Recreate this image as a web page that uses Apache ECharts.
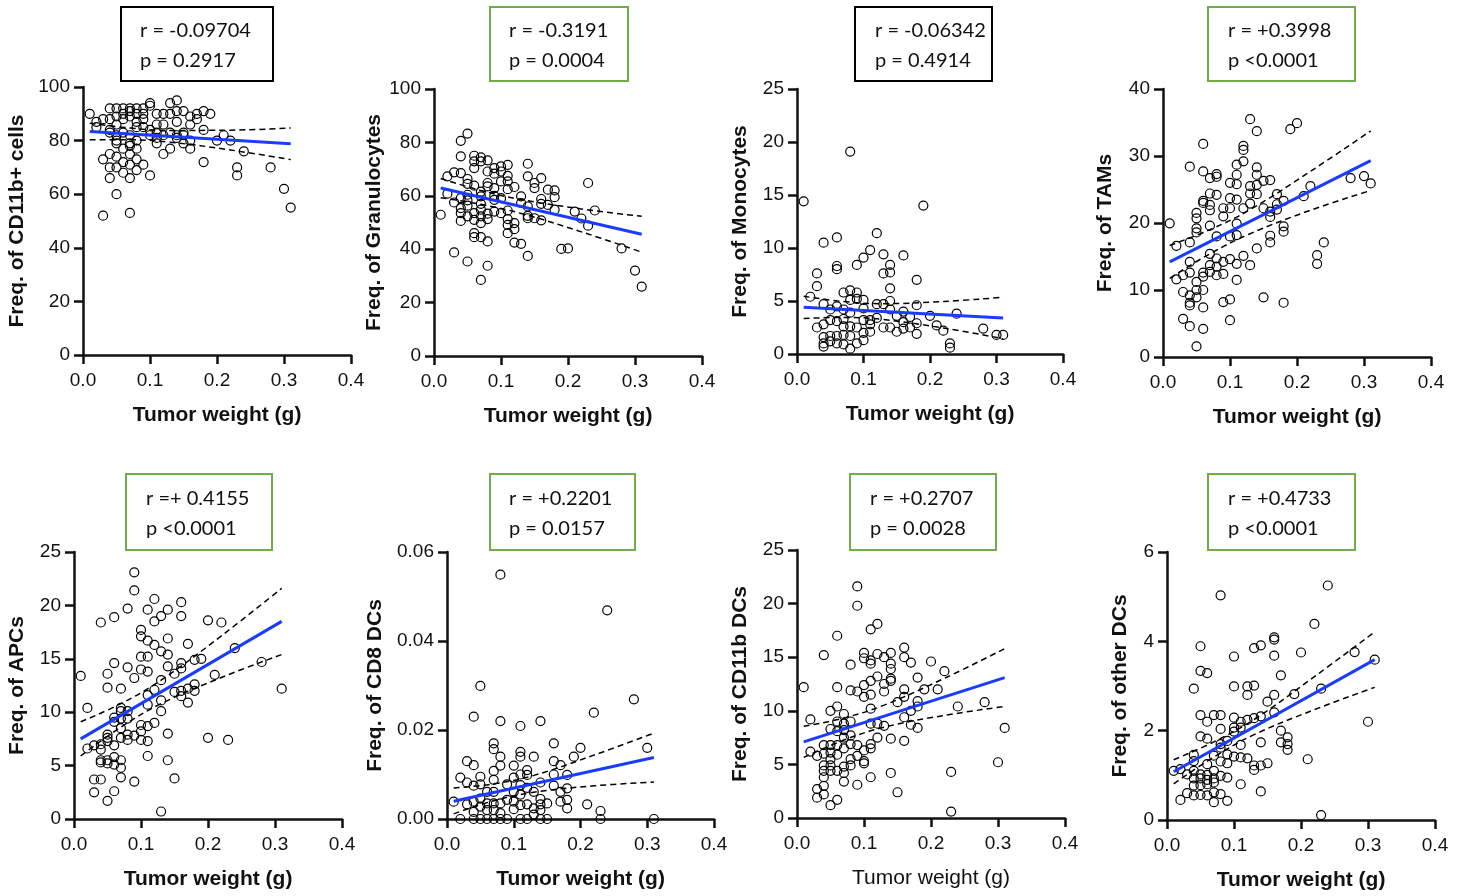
<!DOCTYPE html>
<html>
<head>
<meta charset="utf-8">
<script src="https://cdn.jsdelivr.net/npm/echarts@6/dist/echarts.min.js"></script>
<style>
  html, body { margin: 0; padding: 0; background: #fff; }
  #chart { width: 1466px; height: 896px; }
</style>
</head>
<body>
<div id="chart"></div>
<script>
// ---- Tumor weight (g) vs. immune cell frequency, one array per population ----
const cd11bCells = [
  [0.01,90],[0.02,87],[0.02,85],[0.03,88],[0.03,73],[0.03,52],
  [0.04,92],[0.04,88],[0.04,84],[0.04,83],[0.04,75],[0.04,70],[0.04,66],
  [0.05,92],[0.05,89],[0.05,86],[0.05,82],[0.05,80],[0.05,79],[0.05,74],[0.05,70],[0.05,60],
  [0.06,92],[0.06,90],[0.06,88],[0.06,83],[0.06,77],[0.06,72],[0.06,68],
  [0.07,92],[0.07,91],[0.07,89],[0.07,82],[0.07,79],[0.07,78],[0.07,75],[0.07,71],[0.07,66],[0.07,53],
  [0.08,92],[0.08,90],[0.08,87],[0.08,85],[0.08,80],[0.08,77],[0.08,73],[0.08,69],
  [0.09,92],[0.09,90],[0.09,88],[0.09,85],[0.09,71],
  [0.10,94],[0.10,93],[0.10,84],[0.10,82],[0.10,67],
  [0.11,90],[0.11,86],[0.11,83],[0.11,81],[0.11,79],
  [0.12,90],[0.12,86],[0.12,82],[0.12,75],
  [0.13,94],[0.13,90],[0.13,83],[0.13,77],
  [0.14,95],[0.14,91],[0.14,87],[0.14,82],[0.14,81],
  [0.15,91],[0.15,83],[0.15,82],[0.15,79],
  [0.16,89],[0.16,86],[0.16,80],[0.16,77],
  [0.17,90],[0.17,88],
  [0.18,91],[0.18,84],[0.18,72],
  [0.19,90],[0.20,80],[0.21,82],[0.22,80],[0.23,70],[0.23,67],[0.24,76],[0.28,70],[0.30,62],[0.31,55]
];
const granulocytes = [
  [0.01,52.9],[0.02,67.3],[0.02,60.8],[0.03,68.8],[0.03,57.5],[0.03,38.8],
  [0.04,80.6],[0.04,74.8],[0.04,68.5],[0.04,59.1],[0.04,55.4],[0.04,53.5],[0.04,50.6],
  [0.05,83.3],[0.05,66.3],[0.05,64.5],[0.05,60.4],[0.05,58.3],[0.05,56.3],[0.05,52.3],[0.05,35.4],
  [0.06,75],[0.06,72.9],[0.06,70.4],[0.06,63.8],[0.06,53.5],[0.06,51],[0.06,46],[0.06,44.5],
  [0.07,74.4],[0.07,72.9],[0.07,61.6],[0.07,59.8],[0.07,57],[0.07,54.8],[0.07,52.3],[0.07,49.8],[0.07,44.5],[0.07,28.5],
  [0.08,73.3],[0.08,69.1],[0.08,64.8],[0.08,63.5],[0.08,53.3],[0.08,51.3],[0.08,42.9],[0.08,33.8],
  [0.09,70.4],[0.09,68.3],[0.09,62.9],[0.09,60],[0.09,58.5],[0.09,54.1],
  [0.10,71],[0.10,69.1],[0.10,65.4],[0.10,59.1],[0.10,53.5],
  [0.11,71.6],[0.11,67.5],[0.11,65.4],[0.11,62.5],[0.11,54.5],[0.11,51.3],[0.11,49.1],[0.11,46],
  [0.12,63.3],[0.12,49.8],[0.12,47.5],[0.12,42.5],
  [0.13,59.8],[0.13,57.3],[0.13,42],
  [0.14,72],[0.14,67.3],[0.14,56],[0.14,52.5],[0.14,51.6],[0.14,37.5],
  [0.15,64.8],[0.15,62.9],[0.15,51.6],
  [0.16,66.6],[0.16,58.8],[0.16,57],[0.16,50.8],
  [0.17,62.3],[0.17,56.6],
  [0.18,62],[0.18,59.5],[0.18,54.8],
  [0.19,40.1],[0.20,40.3],[0.21,54.1],[0.22,51.5],[0.23,64.8],[0.23,48.8],[0.24,54.5],[0.28,40.3],[0.30,32],[0.31,26]
];
const monocytes = [
  [0.01,14.4],[0.02,5.4],[0.03,7.6],[0.03,6.4],[0.03,2.5],
  [0.04,10.5],[0.04,4.7],[0.04,2.8],[0.04,1.6],[0.04,1.0],[0.04,0.7],
  [0.05,4.2],[0.05,3.2],[0.05,1.7],[0.05,1.2],
  [0.06,11.0],[0.06,8.3],[0.06,8.0],[0.06,4.5],[0.06,3.1],[0.06,1.7],[0.06,1.0],
  [0.07,5.8],[0.07,4.2],[0.07,3.3],[0.07,2.6],[0.07,1.8],[0.07,0.9],
  [0.08,19.1],[0.08,6.0],[0.08,5.1],[0.08,3.9],[0.08,2.6],[0.08,1.7],[0.08,0.5],
  [0.09,8.4],[0.09,5.8],[0.09,5.2],[0.09,2.5],[0.09,1.0],
  [0.10,9.1],[0.10,5.1],[0.10,4.3],[0.10,3.2],[0.10,2.0],[0.10,1.3],
  [0.11,9.8],[0.11,3.2],[0.11,2.8],[0.11,2.1],
  [0.12,11.4],[0.12,4.7],[0.12,3.4],
  [0.13,9.4],[0.13,7.6],[0.13,4.7],[0.13,2.5],
  [0.14,8.4],[0.14,7.7],[0.14,6.2],[0.14,5.0],[0.14,4.2],[0.14,2.5],
  [0.15,3.6],[0.15,2.1],
  [0.16,9.3],[0.16,4.0],[0.16,3.0],[0.16,2.4],
  [0.17,3.5],[0.17,2.5],
  [0.18,7.0],[0.18,4.6],[0.18,2.9],[0.18,1.9],
  [0.19,14.0],[0.20,3.6],[0.21,2.7],[0.22,2.2],[0.23,1.0],[0.23,0.6],[0.24,3.8],[0.28,2.4],[0.30,1.8],[0.31,1.8]
];
const tams = [
  [0.01,19.95],[0.02,16.6],[0.02,11.6],[0.03,12.2],[0.03,9.7],[0.03,5.7],
  [0.04,28.4],[0.04,17.1],[0.04,14.2],[0.04,12.6],[0.04,9.2],[0.04,8.1],[0.04,7.7],[0.04,4.6],
  [0.05,21.5],[0.05,20.7],[0.05,19.2],[0.05,18.6],[0.05,11.2],[0.05,10.0],[0.05,8.9],[0.05,1.6],
  [0.06,31.8],[0.06,27.7],[0.06,23.3],[0.06,23.0],[0.06,12.6],[0.06,12.0],[0.06,10.0],[0.06,7.4],[0.06,4.2],
  [0.07,26.7],[0.07,24.4],[0.07,22.7],[0.07,21.9],[0.07,19.6],[0.07,15.4],[0.07,13.7],[0.07,12.7],
  [0.08,27.3],[0.08,26.9],[0.08,24.2],[0.08,18.0],[0.08,14.7],[0.08,13.5],[0.08,12.2],
  [0.09,22.2],[0.09,21.0],[0.09,14.2],[0.09,12.4],[0.09,8.2],
  [0.10,26.0],[0.10,23.7],[0.10,22.2],[0.10,18.0],[0.10,14.6],[0.10,8.6],[0.10,5.5],
  [0.11,28.7],[0.11,27.2],[0.11,25.8],[0.11,23.5],[0.11,19.9],[0.11,18.2],[0.11,13.9],[0.11,11.5],
  [0.12,31.5],[0.12,30.9],[0.12,29.2],[0.12,22.2],[0.12,15.1],
  [0.13,35.5],[0.13,25.5],[0.13,24.4],[0.13,22.9],[0.13,13.7],
  [0.14,33.7],[0.14,28.3],[0.14,27.2],[0.14,25.7],[0.14,24.3],[0.14,16.2],
  [0.15,26.3],[0.15,22.2],[0.15,8.9],
  [0.16,26.4],[0.16,21.7],[0.16,20.9],[0.16,18.1],[0.16,17.1],
  [0.17,24.3],[0.17,22.8],[0.17,22.0],
  [0.18,23.3],[0.18,19.5],[0.18,18.7],[0.18,8.1],
  [0.19,34.0],[0.20,34.9],[0.21,24.0],[0.22,25.5],[0.23,15.2],[0.23,13.9],[0.24,17.1],[0.28,26.7],[0.30,27.0],[0.31,25.9]
];
const apcs = [
  [0.01,13.4],[0.02,10.4],[0.02,6.6],[0.03,6.9],[0.03,3.7],[0.03,2.5],
  [0.04,18.4],[0.04,7.0],[0.04,6.5],[0.04,5.5],[0.04,5.3],[0.04,3.7],
  [0.05,13.6],[0.05,12.3],[0.05,7.9],[0.05,7.6],[0.05,7.3],[0.05,5.5],[0.05,5.2],[0.05,1.7],
  [0.06,18.9],[0.06,14.6],[0.06,9.5],[0.06,9.1],[0.06,6.9],[0.06,5.8],[0.06,5.1],[0.06,2.6],
  [0.07,12.2],[0.07,10.4],[0.07,10.1],[0.07,9.4],[0.07,8.5],[0.07,7.6],[0.07,5.5],[0.07,4.8],[0.07,3.9],
  [0.08,19.7],[0.08,14.2],[0.08,10.1],[0.08,9.4],[0.08,7.9],[0.08,7.4],
  [0.09,23.1],[0.09,21.4],[0.09,13.2],[0.09,7.8],[0.09,3.5],
  [0.10,17.7],[0.10,17.1],[0.10,15.2],[0.10,14.0],[0.10,8.8],[0.10,8.2],[0.10,7.4],
  [0.11,19.6],[0.11,16.7],[0.11,15.2],[0.11,13.8],[0.11,11.6],[0.11,10.7],[0.11,8.7],[0.11,7.3],[0.11,5.9],
  [0.12,20.6],[0.12,18.5],[0.12,16.3],[0.12,12.1],[0.12,9.0],
  [0.13,19.0],[0.13,15.7],[0.13,13.0],[0.13,11.1],[0.13,10.1],[0.13,0.7],
  [0.14,19.6],[0.14,16.9],[0.14,15.4],[0.14,14.3],[0.14,8.0],[0.14,5.5],
  [0.15,13.6],[0.15,11.9],[0.15,3.8],
  [0.16,20.3],[0.16,19.0],[0.16,14.6],[0.16,14.1],[0.16,12.0],[0.16,11.5],
  [0.17,16.4],[0.17,12.2],[0.17,10.9],
  [0.18,14.9],[0.18,12.6],[0.18,12.0],
  [0.19,15.0],[0.20,18.6],[0.20,7.6],[0.21,13.5],[0.22,18.4],[0.23,7.4],[0.24,16.0],[0.28,14.7],[0.31,12.2]
];
const cd8Dcs = [
  [0.01,0.0039],[0.02,0.0093],[0.02,0],[0.03,0.0130],[0.03,0.0082],[0.03,0.0033],
  [0.04,0.0230],[0.04,0.0121],[0.04,0.0075],[0.04,0.0039],[0.04,0.0016],[0.04,0],
  [0.05,0.0299],[0.05,0.0095],[0.05,0.0078],[0.05,0.0046],[0.05,0.0028],[0.05,0],
  [0.06,0.0061],[0.06,0.0035],[0.06,0.0020],[0.06,0],
  [0.07,0.0170],[0.07,0.0157],[0.07,0.0108],[0.07,0.0088],[0.07,0.0061],[0.07,0.0035],[0.07,0.0020],[0.07,0],
  [0.08,0.0549],[0.08,0.0220],[0.08,0.0140],[0.08,0.0120],[0.08,0.0035],[0.08,0.0013],[0.08,0],
  [0.09,0.0078],[0.09,0.0043],[0.09,0],
  [0.10,0.0120],[0.10,0.0093],[0.10,0.0061],[0.10,0.0039],[0.10,0.0022],
  [0.11,0.0209],[0.11,0.0151],[0.11,0.0140],[0.11,0.0100],[0.11,0.0076],[0.11,0.0055],[0.11,0.0031],[0.11,0],
  [0.12,0.0110],[0.12,0.0099],[0.12,0.0070],[0.12,0.0033],[0.12,0],
  [0.13,0.0140],[0.13,0.0061],[0.13,0.0024],[0.13,0.0010],
  [0.14,0.0220],[0.14,0.0082],[0.14,0.0045],[0.14,0.0033],[0.14,0.0020],[0.14,0],
  [0.15,0.0035],[0.15,0],
  [0.16,0.0170],[0.16,0.0130],[0.16,0.0100],[0.16,0.0075],
  [0.17,0.0121],[0.17,0.0061],[0.17,0.0039],
  [0.18,0.0099],[0.18,0.0069],[0.18,0.0043],[0.18,0.0024],
  [0.19,0.0140],[0.20,0.0160],[0.21,0.0033],[0.22,0.0239],[0.23,0.0018],[0.23,0],[0.24,0.0469],[0.28,0.0269],[0.30,0.0160],[0.31,0]
];
const cd11bDcs = [
  [0.01,12.2],[0.02,9.2],[0.02,6.2],[0.03,5.8],[0.03,2.7],[0.03,1.9],
  [0.04,15.2],[0.04,6.8],[0.04,6.0],[0.04,4.9],[0.04,4.4],[0.04,3.8],[0.04,3.0],[0.04,2.2],
  [0.05,10.0],[0.05,8.3],[0.05,6.8],[0.05,6.1],[0.05,5.5],[0.05,4.9],[0.05,4.4],[0.05,1.2],
  [0.06,17.0],[0.06,12.2],[0.06,10.4],[0.06,9.0],[0.06,8.1],[0.06,6.8],[0.06,5.9],[0.06,4.4],[0.06,1.7],
  [0.07,9.7],[0.07,8.8],[0.07,8.2],[0.07,7.5],[0.07,6.5],[0.07,4.8],[0.07,4.2],[0.07,3.4],
  [0.08,14.3],[0.08,11.9],[0.08,9.0],[0.08,7.7],[0.08,6.9],[0.08,5.5],[0.08,4.9],
  [0.09,21.6],[0.09,19.8],[0.09,11.8],[0.09,6.8],[0.09,5.8],[0.09,3.1],
  [0.10,15.4],[0.10,14.9],[0.10,12.4],[0.10,11.3],[0.10,6.3],[0.10,5.3],[0.10,5.1],
  [0.11,17.6],[0.11,14.7],[0.11,14.4],[0.11,12.8],[0.11,11.5],[0.11,10.2],[0.11,8.8],[0.11,6.9],[0.11,6.5],[0.11,3.8],
  [0.12,18.1],[0.12,15.3],[0.12,13.2],[0.12,8.8],[0.12,7.5],
  [0.13,15.0],[0.13,12.5],[0.13,11.8],[0.13,8.6],
  [0.14,15.4],[0.14,14.4],[0.14,13.9],[0.14,13.0],[0.14,12.8],[0.14,7.4],[0.14,4.2],
  [0.15,10.8],[0.15,2.4],
  [0.16,15.9],[0.16,15.0],[0.16,12.0],[0.16,11.3],[0.16,9.4],[0.16,7.2],
  [0.17,14.5],[0.17,10.0],[0.17,8.7],
  [0.18,13.1],[0.18,10.9],[0.18,10.4],[0.18,8.4],
  [0.19,12.0],[0.20,14.6],[0.21,12.0],[0.22,13.7],[0.23,4.3],[0.23,0.6],[0.24,10.4],[0.28,10.8],[0.30,5.2],[0.31,8.4]
];
const otherDcs = [
  [0.01,1.10],[0.02,1.14],[0.02,0.45],[0.03,1.02],[0.03,0.60],
  [0.04,2.94],[0.04,1.46],[0.04,1.32],[0.04,1.10],[0.04,0.93],[0.04,0.77],[0.04,0.55],
  [0.05,3.89],[0.05,3.34],[0.05,2.35],[0.05,1.87],[0.05,1.02],[0.05,0.93],[0.05,0.78],[0.05,0.56],
  [0.06,3.29],[0.06,2.20],[0.06,1.82],[0.06,1.25],[0.06,1.01],[0.06,0.90],[0.06,0.80],[0.06,0.55],
  [0.07,2.35],[0.07,1.44],[0.07,1.10],[0.07,0.93],[0.07,0.84],[0.07,0.62],[0.07,0.40],
  [0.08,5.03],[0.08,2.35],[0.08,2.04],[0.08,1.70],[0.08,1.62],[0.08,1.31],[0.08,0.99],[0.08,0.58],
  [0.09,1.77],[0.09,1.47],[0.09,1.27],[0.09,0.95],[0.09,0.43],
  [0.10,3.66],[0.10,2.99],[0.10,2.29],[0.10,2.07],[0.10,1.98],[0.10,1.42],
  [0.11,2.20],[0.11,2.07],[0.11,1.68],[0.11,1.40],[0.11,0.80],
  [0.12,2.99],[0.12,2.80],[0.12,2.24],[0.12,1.38],
  [0.13,3.85],[0.13,3.01],[0.13,2.28],[0.13,1.22],[0.13,1.12],
  [0.14,3.91],[0.14,2.32],[0.14,1.74],[0.14,1.22],[0.14,0.64],
  [0.15,2.65],[0.15,1.27],
  [0.16,4.09],[0.16,4.04],[0.16,3.68],[0.16,2.80],[0.16,2.41],
  [0.17,3.24],[0.17,2.00],[0.17,1.74],
  [0.18,1.85],[0.18,1.70],[0.18,1.57],
  [0.19,2.82],[0.20,3.75],[0.21,1.36],[0.22,4.39],[0.23,2.94],[0.23,0.11],[0.24,5.25],[0.28,3.76],[0.30,2.20],[0.31,3.59]
];

// ---- Linear fits (endpoints) and 95% confidence bands ----
const fitCd11bCells = [[0.01,83.4],[0.31,78.8]];
const upperCd11bCells = [[0.01,86.5],[0.07,84.7],[0.13,83.8],[0.22,83.9],[0.31,84.7]];
const lowerCd11bCells = [[0.01,80.3],[0.07,80.3],[0.13,79.4],[0.22,76.5],[0.31,72.9]];

const fitGranulocytes = [[0.01,62.9],[0.31,45.6]];
const upperGranulocytes = [[0.01,66.5],[0.07,62.0],[0.13,58.6],[0.22,55.1],[0.31,52.3]];
const lowerGranulocytes = [[0.01,59.3],[0.07,56.8],[0.13,53.4],[0.22,46.5],[0.31,38.9]];

const fitMonocytes = [[0.01,4.4],[0.31,3.4]];
const upperMonocytes = [[0.01,5.45],[0.07,4.95],[0.13,4.75],[0.22,4.95],[0.31,5.35]];
const lowerMonocytes = [[0.01,3.35],[0.07,3.45],[0.13,3.25],[0.22,2.45],[0.31,1.45]];

const fitTams = [[0.01,14.2],[0.31,29.3]];
const upperTams = [[0.01,16.65],[0.07,19.0],[0.13,22.0],[0.22,27.7],[0.31,33.75]];
const lowerTams = [[0.01,11.75],[0.07,15.4],[0.13,18.4],[0.22,21.9],[0.31,24.85]];

const fitApcs = [[0.01,7.5],[0.31,18.5]];
const upperApcs = [[0.01,9.1],[0.07,10.8],[0.13,13.0],[0.22,17.15],[0.31,21.6]];
const lowerApcs = [[0.01,5.9],[0.07,8.6],[0.13,10.8],[0.22,13.25],[0.31,15.4]];

const fitCd8Dcs = [[0.01,0.0040],[0.31,0.0138]];
const upperCd8Dcs = [[0.01,0.00695],[0.07,0.0079],[0.13,0.0098],[0.22,0.01435],[0.31,0.0193]];
const lowerCd8Dcs = [[0.01,0.00115],[0.07,0.0041],[0.13,0.0060],[0.22,0.00745],[0.31,0.0083]];

const fitCd11bDcs = [[0.01,7.1],[0.31,13.1]];
const upperCd11bDcs = [[0.01,8.55],[0.07,9.33],[0.13,10.53],[0.22,13.03],[0.31,15.8]];
const lowerCd11bDcs = [[0.01,5.65],[0.07,7.27],[0.13,8.47],[0.22,9.57],[0.31,10.4]];

const fitOtherDcs = [[0.01,1.08],[0.31,3.59]];
const upperOtherDcs = [[0.01,1.35],[0.07,1.75],[0.13,2.25],[0.22,3.21],[0.31,4.21]];
const lowerOtherDcs = [[0.01,0.81],[0.07,1.41],[0.13,1.91],[0.22,2.47],[0.31,2.97]];

// ---- Text ----
const yTitles = ['Freq. of CD11b+ cells','Freq. of Granulocytes','Freq. of Monocytes','Freq. of TAMs',
                 'Freq. of APCs','Freq. of CD8 DCs','Freq. of CD11b DCs','Freq. of other DCs'];
const xTitle = 'Tumor weight (g)';
const rLabels = ['r = -0.09704','r = -0.3191','r = -0.06342','r = +0.3998',
                 'r =+ 0.4155','r = +0.2201','r = +0.2707','r = +0.4733'];
const pLabels = ['p = 0.2917','p = 0.0004','p = 0.4914','p <0.0001',
                 'p <0.0001','p = 0.0157','p = 0.0028','p <0.0001'];
const significant = [false,true,false,true,true,true,true,true];
const yMax = [100,100,25,40,25,0.06,25,6];
const yStep = [20,20,5,10,5,0.02,5,2];
const yDecimals = [0,0,0,0,0,2,0,0];

const series = [
  [cd11bCells, fitCd11bCells, upperCd11bCells, lowerCd11bCells],
  [granulocytes, fitGranulocytes, upperGranulocytes, lowerGranulocytes],
  [monocytes, fitMonocytes, upperMonocytes, lowerMonocytes],
  [tams, fitTams, upperTams, lowerTams],
  [apcs, fitApcs, upperApcs, lowerApcs],
  [cd8Dcs, fitCd8Dcs, upperCd8Dcs, lowerCd8Dcs],
  [cd11bDcs, fitCd11bDcs, upperCd11bDcs, lowerCd11bDcs],
  [otherDcs, fitOtherDcs, upperOtherDcs, lowerOtherDcs]
];

// ---- Panel placement (pixels) ----
const frames = [
  { left: 83,   top: 87,  w: 268, h: 268, gap: 55, box: [121, 7, 152, 74],  tx: 140 },
  { left: 434,  top: 89,  w: 268, h: 267, gap: 49, box: [490, 7, 138, 74],  tx: 509 },
  { left: 797,  top: 89,  w: 266, h: 265, gap: 46, box: [855, 7, 137, 74],  tx: 875 },
  { left: 1163, top: 89,  w: 268, h: 268, gap: 47, box: [1208, 7, 147, 74], tx: 1228 },
  { left: 74,   top: 552, w: 268, h: 267, gap: 46, box: [126, 474, 146, 76], tx: 146 },
  { left: 447,  top: 552, w: 267, h: 267, gap: 61, box: [490, 474, 145, 76], tx: 509 },
  { left: 797,  top: 550, w: 268, h: 268, gap: 46, box: [850, 474, 146, 76], tx: 870 },
  { left: 1167, top: 552, w: 268, h: 268, gap: 36, box: [1208, 474, 147, 76], tx: 1228 }
];

const AXIS_FONT = 'Liberation Sans, Arial, sans-serif';
const INK = '#111';
const axisLine = { show: true, onZero: false, lineStyle: { color: INK, width: 2.5 } };
const axisTick = { show: true, inside: false, length: 9, lineStyle: { color: INK, width: 2.5 } };

const grid = [], xAxis = [], yAxis = [], allSeries = [], graphic = [];

frames.forEach((f, i) => {
  grid.push({ left: f.left, top: f.top, width: f.w, height: f.h, containLabel: false });
  xAxis.push({
    gridIndex: i, type: 'value', min: 0, max: 0.4, interval: 0.1,
    axisLine, axisTick, splitLine: { show: false },
    axisLabel: { margin: 16, fontSize: 19, fontFamily: AXIS_FONT, color: INK,
                 formatter: v => v.toFixed(1) },
    name: xTitle, nameLocation: 'middle', nameGap: 50,
    nameTextStyle: { fontSize: 21, fontFamily: AXIS_FONT, color: INK,
                     fontWeight: i === 6 ? 'normal' : 'bold' }
  });
  yAxis.push({
    gridIndex: i, type: 'value', min: 0, max: yMax[i], interval: yStep[i],
    axisLine, axisTick, splitLine: { show: false },
    axisLabel: { margin: 13, fontSize: 19, fontFamily: AXIS_FONT, color: INK,
                 formatter: v => v.toFixed(yDecimals[i]) },
    name: yTitles[i], nameLocation: 'middle', nameRotate: 90, nameGap: f.gap,
    nameTextStyle: { fontSize: 21, fontFamily: AXIS_FONT, color: INK, fontWeight: 'bold' }
  });

  const [pts, fit, up, lo] = series[i];
  allSeries.push({
    type: 'scatter', xAxisIndex: i, yAxisIndex: i, data: pts, symbol: 'circle', symbolSize: 9,
    silent: true, z: 2,
    itemStyle: { color: 'rgba(255,255,255,0)', borderColor: '#000', borderWidth: 1.2, opacity: 1 }
  });
  [up, lo].forEach(band => allSeries.push({
    type: 'line', xAxisIndex: i, yAxisIndex: i, data: band, smooth: 0.4, showSymbol: false,
    silent: true, z: 3, lineStyle: { color: '#000', width: 1.5, type: [6, 4] }
  }));
  allSeries.push({
    type: 'line', xAxisIndex: i, yAxisIndex: i, data: fit, showSymbol: false,
    silent: true, z: 4, lineStyle: { color: '#1a3cff', width: 3 }
  });

  const [bx, by, bw, bh] = f.box;
  graphic.push({
    type: 'rect', shape: { x: bx, y: by, width: bw, height: bh },
    style: { fill: '#fff', stroke: significant[i] ? '#70ad47' : '#000', lineWidth: 2 }
  });
  const lineY = by + bh / 2 + 2;
  graphic.push({
    type: 'text', x: f.tx, y: lineY - 15,
    style: { text: rLabels[i], font: '20px Lato, "Open Sans", sans-serif', fill: INK,
             verticalAlign: 'middle', align: 'left' }
  });
  graphic.push({
    type: 'text', x: f.tx, y: lineY + 15,
    style: { text: pLabels[i], font: '20px Lato, "Open Sans", sans-serif', fill: INK,
             verticalAlign: 'middle', align: 'left' }
  });
});

const chart = echarts.init(document.getElementById('chart'), null, { renderer: 'canvas' });
chart.setOption({
  animation: false,
  backgroundColor: '#fff',
  grid, xAxis, yAxis, series: allSeries, graphic
});
</script>
</body>
</html>
